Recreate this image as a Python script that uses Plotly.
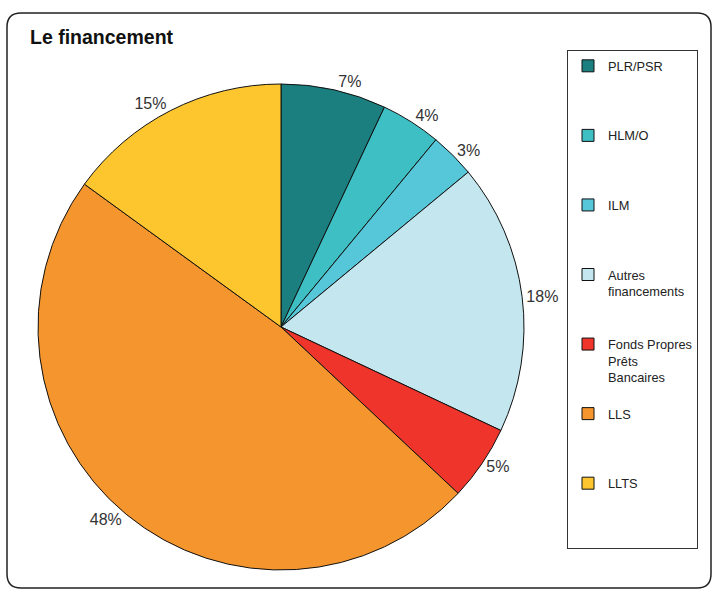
import plotly.graph_objects as go

labels = ["PLR/PSR", "HLM/O", "ILM", "Autres<br>financements",
          "Fonds Propres<br>Prêts<br>Bancaires", "LLS", "LLTS"]
values = [7, 4, 3, 18, 5, 48, 15]
colors = ["#1b7f80", "#3dbfc3", "#56c7d8", "#c4e6ee", "#ee342b", "#f5952d", "#fdc62f"]

# pad every legend entry to the same number of lines so spacing stays even
n_lines = 4
legend_labels = []
for lab in labels:
    k = lab.count("<br>") + 1
    legend_labels.append(lab + "<br> " * (n_lines - k))

W, H = 718, 590
cx, cy, r = 281, 327, 243

fig = go.Figure()
fig.add_trace(go.Pie(
    labels=legend_labels,
    values=values,
    sort=False,
    direction="clockwise",
    rotation=0,
    marker=dict(colors=colors, line=dict(color="#111111", width=1)),
    textinfo="percent",
    textposition="outside",
    outsidetextfont=dict(family="Liberation Sans, Arial", size=16, color="#333333"),
    domain=dict(x=[(cx - r) / W, (cx + r) / W], y=[1 - (cy + r) / H, 1 - (cy - r) / H]),
    hoverinfo="label+value",
))

# rounded outer frame
x0, x1 = 7 / W, 711 / W
y0, y1 = 1 - 588 / H, 1 - 13 / H
rx, ry = 14 / W, 14 / H
frame = (f"M {x0 + rx} {y1} L {x1 - rx} {y1} Q {x1} {y1} {x1} {y1 - ry} "
         f"L {x1} {y0 + ry} Q {x1} {y0} {x1 - rx} {y0} "
         f"L {x0 + rx} {y0} Q {x0} {y0} {x0} {y0 + ry} "
         f"L {x0} {y1 - ry} Q {x0} {y1} {x0 + rx} {y1} Z")

fig.update_layout(
    width=W, height=H,
    margin=dict(l=0, r=0, t=0, b=0),
    paper_bgcolor="white",
    font=dict(family="Liberation Sans, Arial", color="#222222"),
    shapes=[dict(type="path", xref="paper", yref="paper", path=frame,
                 line=dict(color="#222222", width=1.5))],
    annotations=[dict(text="<b>Le financement</b>", x=28 / W, y=1 - 37 / H,
                      xref="paper", yref="paper", xanchor="left", yanchor="middle",
                      showarrow=False, font=dict(size=19.5, color="#111111"))],
    legend=dict(
        x=567 / W, y=1 - 50 / H, xanchor="left", yanchor="top",
        bordercolor="#333333", borderwidth=1, bgcolor="white",
        font=dict(size=12.8, color="#222222"),
        valign="top", itemwidth=30,
    ),
)

fig.write_html("out.html", config={"displayModeBar": False},
               post_script="document.body.style.margin='0';")
